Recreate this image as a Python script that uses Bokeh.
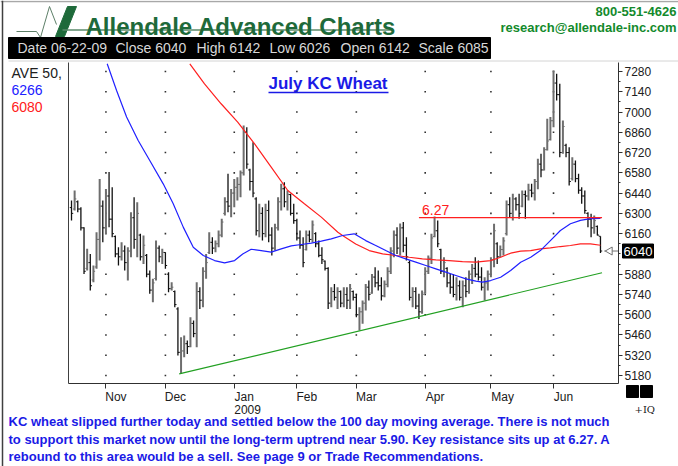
from bokeh.plotting import figure
from bokeh.models import Range1d, LinearAxis, FixedTicker, Label, ColumnDataSource, GridBox
from bokeh.embed import file_html
from bokeh.resources import INLINE
from bokeh.core.properties import value

FONT = "Liberation Sans"
W, H = 678, 466

# ---------------- data ----------------
months = ["Nov", "Dec", "Jan", "Feb", "Mar", "Apr", "May", "Jun"]
month_start_idx = [11, 30, 52, 72, 91, 113, 134, 154]
year_label = "2009"

high = [6389, 6458, 6389, 6343, 6205, 6055, 6020, 5940, 6170, 6538,
        6389, 6469, 6585, 6481, 6147, 6066, 6101, 6078, 6066, 6308,
        6412, 6377, 6159, 6147, 6020, 5905, 5848, 6113, 6078, 6055,
        6032, 5894, 5825, 5767, 5652, 5445, 5456, 5422, 5583, 5560,
        5825, 5790, 5928, 6020, 6170, 6135, 6112, 6182, 6262, 6412,
        6573, 6469, 6538, 6550, 6596, 6907, 6895, 6608, 6792, 6412,
        6366, 6343, 6366, 6389, 6205, 6228, 6412, 6504, 6515, 6458,
        6435, 6366, 6262, 6182, 6135, 6182, 6182, 6251, 6170, 6112,
        6066, 5974, 5928, 5790, 5813, 5790, 5767, 5790, 5790, 5813,
        5767, 5744, 5652, 5698, 5813, 5836, 5882, 5928, 5905, 5859,
        5836, 5928, 6066, 6182, 6205, 6230, 6240, 6135, 5974, 5790,
        5790, 5744, 5767, 5928, 6009, 6159, 6278, 6251, 6055, 5997,
        5928, 5882, 5882, 5859, 5836, 5836, 5859, 5905, 5951, 5997,
        5974, 5928, 5859, 5905, 5997, 6228, 6101, 6078, 6135, 6389,
        6412, 6435, 6412, 6435, 6458, 6458, 6504, 6504, 6538, 6677,
        6711, 6757, 6953, 6965, 7287, 7264, 7195, 6941, 6780, 6757,
        6688, 6665, 6573, 6481, 6458, 6308, 6297, 6285, 6216, 6142]

low = [6251, 6320, 6308, 6182, 5882, 5905, 5767, 5825, 5917, 5974,
       6101, 6158, 6205, 6135, 5997, 5940, 5974, 5905, 5836, 5997,
       6055, 5997, 5974, 5951, 5859, 5744, 5686, 5836, 5963, 5951,
       5917, 5756, 5767, 5652, 5318, 5191, 5306, 5329, 5376, 5445,
       5376, 5640, 5652, 5848, 6020, 6020, 6032, 6066, 6135, 6285,
       6308, 6274, 6343, 6389, 6412, 6561, 6608, 6458, 6412, 6147,
       6135, 6112, 6135, 6101, 6009, 6043, 6182, 6320, 6343, 6320,
       6285, 6228, 6112, 6055, 5928, 6043, 6101, 6101, 6066, 5997,
       5951, 5905, 5640, 5652, 5698, 5640, 5652, 5652, 5640, 5640,
       5698, 5583, 5491, 5537, 5629, 5698, 5744, 5790, 5767, 5698,
       5721, 5790, 5882, 5997, 6020, 6009, 6032, 5974, 5698, 5652,
       5640, 5571, 5606, 5744, 5882, 5951, 6135, 6066, 5882, 5859,
       5790, 5744, 5721, 5698, 5698, 5652, 5721, 5744, 5813, 5859,
       5836, 5767, 5698, 5767, 5859, 5928, 5951, 5997, 6009, 6147,
       6274, 6251, 6320, 6262, 6343, 6262, 6389, 6412, 6389, 6466,
       6550, 6596, 6734, 6803, 6895, 7080, 6688, 6711, 6688, 6492,
       6527, 6515, 6435, 6366, 6297, 6205, 6135, 6159, 6147, 6026]

open_ = [6340, 6330, 6380, 6330, 6200, 5920, 5960, 5840, 5930, 6120,
         6350, 6200, 6420, 6260, 6140, 6020, 6000, 6040, 5960, 6040,
         6270, 6120, 6150, 6000, 6010, 5880, 5770, 5850, 6060, 6000,
         6030, 5880, 5780, 5760, 5640, 5340, 5350, 5400, 5380, 5540,
         5470, 5760, 5700, 5900, 6030, 6100, 6060, 6090, 6150, 6300,
         6380, 6350, 6440, 6480, 6500, 6580, 6860, 6600, 6520, 6400,
         6180, 6300, 6160, 6320, 6150, 6060, 6200, 6380, 6470, 6380,
         6430, 6300, 6250, 6130, 6080, 6050, 6150, 6120, 6160, 6090,
         6010, 5970, 5920, 5680, 5760, 5720, 5760, 5680, 5740, 5700,
         5760, 5720, 5600, 5620, 5680, 5790, 5750, 5860, 5820, 5800,
         5730, 5810, 5900, 6040, 6150, 6060, 6200, 6080, 5960, 5720,
         5760, 5660, 5620, 5750, 5900, 5990, 6140, 6180, 6050, 5900,
         5920, 5820, 5790, 5740, 5800, 5720, 5800, 5760, 5880, 5920,
         5880, 5860, 5790, 5820, 5880, 5980, 6090, 6000, 6050, 6160,
         6360, 6300, 6400, 6360, 6350, 6430, 6420, 6460, 6440, 6520,
         6640, 6600, 6740, 6810, 6940, 7200, 7120, 6720, 6770, 6720,
         6540, 6640, 6540, 6460, 6420, 6300, 6260, 6200, 6210, 6142]

close = [6300, 6400, 6330, 6200, 5900, 5960, 5800, 5900, 6120, 6350,
         6200, 6420, 6260, 6160, 6020, 6000, 6040, 5960, 6040, 6270,
         6120, 6300, 6000, 6080, 5880, 5770, 5820, 6060, 6000, 6030,
         5940, 5780, 5790, 5670, 5340, 5350, 5400, 5380, 5540, 5470,
         5760, 5700, 5900, 5960, 6100, 6060, 6090, 6150, 6240, 6380,
         6350, 6440, 6480, 6500, 6580, 6860, 6640, 6520, 6440, 6180,
         6300, 6160, 6320, 6150, 6060, 6200, 6380, 6470, 6380, 6430,
         6300, 6250, 6130, 6080, 5960, 6150, 6120, 6220, 6090, 6010,
         5980, 5920, 5680, 5760, 5720, 5760, 5680, 5740, 5700, 5780,
         5720, 5600, 5620, 5680, 5790, 5740, 5860, 5820, 5800, 5730,
         5810, 5900, 6040, 6150, 6060, 6200, 6080, 6000, 5720, 5760,
         5660, 5620, 5740, 5900, 5990, 6130, 6180, 6090, 5900, 5960,
         5820, 5790, 5740, 5800, 5720, 5800, 5760, 5880, 5920, 5880,
         5860, 5790, 5820, 5880, 5980, 6180, 6000, 6050, 6110, 6360,
         6300, 6400, 6360, 6300, 6430, 6420, 6460, 6440, 6520, 6640,
         6600, 6740, 6800, 6940, 7200, 7120, 6720, 6900, 6720, 6520,
         6640, 6540, 6460, 6420, 6320, 6260, 6200, 6250, 6150, 6040]

ma50_idx = [11.4, 14.4, 17.6, 21.3, 25.0, 29.3, 32.5, 35.7, 38.9, 42.1,
            45.7, 48.9, 52.1, 54.7, 57.4, 60.6, 63.8, 67.0, 70.2, 73.4,
            76.6, 79.8, 83.0, 86.6, 90.3, 94.0, 97.2, 100.4, 103.6, 106.8,
            110.0, 113.2, 116.4, 119.6, 122.8, 126.0, 129.2, 131.3, 133.9, 137.1,
            140.3, 143.5, 146.7, 149.8, 153.0, 156.2, 159.4, 162.6, 165.8, 169.0]
ma50_val = [7333, 7149, 6965, 6803, 6665, 6504, 6366, 6205, 6066, 6009,
            5974, 5958, 5974, 6020, 6052, 6043, 6032, 6055, 6076, 6085,
            6094, 6108, 6124, 6147, 6159, 6112, 6078, 6043, 6009, 5986,
            5963, 5940, 5917, 5894, 5871, 5848, 5832, 5825, 5836, 5859,
            5905, 5963, 5997, 6043, 6112, 6182, 6228, 6252, 6264, 6266]

ma100_idx = [37.8, 42.5, 47.8, 53.1, 58.5, 63.8, 69.1, 74.4, 79.8, 85.1,
             86.6, 90.8, 95.1, 99.4, 103.6, 107.9, 112.1, 116.4, 120.7, 124.9,
             129.2, 133.9, 137.1, 140.3, 143.5, 146.7, 149.8, 153.0, 156.2, 159.4,
             162.6, 165.8, 169.0]
ma100_val = [7333, 7195, 7057, 6930, 6780, 6619, 6458, 6366, 6274, 6170,
             6147, 6089, 6043, 6020, 6009, 5997, 5986, 5979, 5974, 5967,
             5963, 5974, 5997, 6025, 6039, 6043, 6055, 6062, 6071, 6078,
             6089, 6089, 6080]

trend_idx = [34.4, 169.5]
trend_val = [5191, 5890]

resist_idx = [111, 169.5]
resist_val = [6270, 6270]
resist_label = "6.27"

price_ticks = [5180, 5320, 5460, 5600, 5740, 5880, 6160, 6300,
               6440, 6580, 6720, 6860, 7000, 7140, 7280]
price_minor = [5250, 5390, 5530, 5670, 5810, 5950, 6020, 6090, 6230, 6370,
               6510, 6650, 6790, 6930, 7070, 7210]

last_close = 6040
ave_lines = ["AVE 50,", "6266", "6080"]
chart_title = "July KC Wheat"
logo_text = "Allendale Advanced Charts"
phone = "800-551-4626"
email = "research@allendale-inc.com"
header_items = ["Date 06-22-09", "Close 6040", "High 6142", "Low 6026", "Open 6142", "Scale 6085"]
footer_lines = [
    "KC wheat slipped further today and settled below the 100 day moving average.  There is not much",
    "to support this market now until the long-term uptrend near 5.90.  Key resistance sits up at 6.27.  A",
    "rebound to this area would be a sell.  See page 9 or Trade Recommendations.",
]

# ---------------- geometry of the chart frame (pixels) ----------------
FL, FR, FT, FB = 68, 618, 62, 383
X0, X1 = -0.96, 174.76
Y0, Y1 = 5125, 7342

# ---------------- main chart (bottom layer) ----------------
p = figure(width=W, height=H, x_range=Range1d(X0, X1), y_range=Range1d(Y0, Y1),
           output_backend="svg", toolbar_location=None,
           min_border_left=FL, min_border_right=W - FR, min_border_top=FT, min_border_bottom=H - FB,
           x_axis_location=None, y_axis_location=None, outline_line_color=None)
p.grid.visible = False
try:
    p.frame_align = False
except Exception:
    pass

NB = "\u00a0"
pads = {"Nov": 6, "Dec": 6, "Jan": 6, "Feb": 6, "Mar": 6, "Apr": 6, "May": 7, "Jun": 6}
overrides = {}
for m, i in zip(months, month_start_idx):
    lab = NB * pads[m] + m
    if m == "Jan":
        lab = lab + "\n" + NB * 8 + year_label
    overrides[i] = lab

xax = LinearAxis(ticker=FixedTicker(ticks=month_start_idx, minor_ticks=[]),
                 major_label_overrides=overrides,
                 major_tick_out=5, major_tick_in=0, minor_tick_out=0, minor_tick_in=0,
                 axis_line_color="#303030", major_tick_line_color="#303030",
                 major_label_standoff=1, major_label_text_font=FONT,
                 major_label_text_font_size="12px", major_label_text_color="#202020",
                 major_label_text_line_height=0.95)
p.add_layout(xax, "below")

lax = LinearAxis(ticker=FixedTicker(ticks=[], minor_ticks=[]),
                 major_tick_out=0, major_tick_in=0, minor_tick_out=0, minor_tick_in=0,
                 axis_line_color="#404040", major_label_standoff=0)
p.add_layout(lax, "left")

yax = LinearAxis(ticker=FixedTicker(ticks=price_ticks, minor_ticks=price_minor),
                 major_tick_out=4, major_tick_in=0, minor_tick_out=2, minor_tick_in=0,
                 axis_line_color="#303030", major_tick_line_color="#303030",
                 minor_tick_line_color="#303030", major_label_standoff=2,
                 major_label_text_font=FONT, major_label_text_font_size="12px",
                 major_label_text_color="#202020")
p.add_layout(yax, "right")

# dotted grid at tick intersections
gx = [m for m in month_start_idx for _ in price_ticks]
gy = [t for _ in month_start_idx for t in price_ticks]
p.scatter(x=gx, y=gy, marker="square", size=1.6, fill_color="#303030", line_color=None)

idx = list(range(len(high)))
up = [c >= o for o, c in zip(open_, close)]
src = ColumnDataSource(dict(
    x=idx, hi=high, lo=low, op=open_, cl=close,
    xl=[i - 0.55 for i in idx], xr=[i + 0.55 for i in idx],
    color=["#6e6e6e" if u else "#101010" for u in up],
    width=[2 if u else 1.3 for u in up],
))
p.segment(x0="x", y0="lo", x1="x", y1="hi", source=src, line_color="color", line_width="width")
p.segment(x0="xl", y0="op", x1="x", y1="op", source=src, line_color="color", line_width=1)
p.segment(x0="x", y0="cl", x1="xr", y1="cl", source=src, line_color="color", line_width=1)

p.line(ma100_idx, ma100_val, line_color="#ff2020", line_width=1.2)
p.line(ma50_idx, ma50_val, line_color="#2020ff", line_width=1.2)
p.line(trend_idx, trend_val, line_color="#22a022", line_width=1.2)
p.line(resist_idx, resist_val, line_color="#ff2020", line_width=1.3)
p.add_layout(Label(x=resist_idx[0] + 1, y=resist_val[0], y_offset=3, text=resist_label,
                   text_font=FONT, text_font_size="14px", text_color="#ff2020",
                   text_baseline="bottom"))

# last price pointer
p.segment(x0=[170.2], y0=[last_close], x1=[X1], y1=[last_close], line_color="#707070", line_width=1)
p.scatter(x=[172.0], y=[last_close], marker="triangle", angle=1.5708, size=8,
          fill_color="white", line_color="#707070")

# ---------------- decoration layer (top, transparent) ----------------
sx = (X1 - X0) / (FR - FL)
sy = (Y1 - Y0) / (FB - FT)
d = figure(width=W, height=H,
           x_range=Range1d(X0 - FL * sx, X1 + (W - FR) * sx),
           y_range=Range1d(Y0 - (H - FB) * sy, Y1 + FT * sy),
           output_backend="svg", toolbar_location=None, min_border=0,
           x_axis_location=None, y_axis_location=None, outline_line_color=None,
           background_fill_color=None, border_fill_color=None)
d.grid.visible = False
try:
    d.frame_align = False
except Exception:
    pass
d.extra_x_ranges = {"px": Range1d(0, W)}
d.extra_y_ranges = {"px": Range1d(H, 0)}
PX = dict(x_range_name="px", y_range_name="px")

# page frame
d.segment(x0=[0], y0=[1], x1=[W], y1=[1], line_color="#a8a8a8", line_width=1.5, **PX)
d.segment(x0=[2], y0=[0], x1=[2], y1=[H], line_color="#404040", line_width=1.5, **PX)
d.segment(x0=[8], y0=[60.5], x1=[W], y1=[60.5], line_color="#d4d4d4", line_width=1, **PX)

# logo
d.line(x=[16, 36, 40, 49, 56], y=[31, 31, 37, 6, 24], line_color="#5d7f68", line_width=1, **PX)
d.patch(x=[55, 67, 76, 64], y=[36, 6, 6, 36], fill_color="#1e6a3a", line_color="#1e6a3a", **PX)
d.segment(x0=[62], y0=[29.5], x1=[392], y1=[29.5], line_color="#5a8a6a", line_width=1.5, **PX)
d.text(x=[85], y=[26], text=[logo_text], text_font=value(FONT), text_font_style="bold",
       text_font_size="24px", text_color="#1e6a3a", text_baseline="alphabetic", **PX)
d.text(x=[676], y=[11], text=[phone], text_font=value(FONT), text_font_style="bold",
       text_font_size="13px", text_color="#138a2c", text_align="right", text_baseline="middle", **PX)
d.text(x=[676], y=[27], text=[email], text_font=value(FONT), text_font_style="bold",
       text_font_size="13px", text_color="#138a2c", text_align="right", text_baseline="middle", **PX)

# black info bar
d.quad(left=[8], right=[490], top=[37], bottom=[58], fill_color="black", line_color="black", **PX)
d.text(x=[17, 115, 196, 269, 340, 418], y=[47.5] * 6, text=header_items, text_font=value(FONT),
       text_font_size="14px", text_color="#d8d8d8", text_baseline="middle", **PX)

# left legend block
d.text(x=[11, 11, 11], y=[72, 89, 106], text=ave_lines, text_font=value(FONT),
       text_font_size="14px", text_color=["#202020", "#2020ff", "#ff2020"],
       text_baseline="middle", **PX)

# chart title with underline
d.text(x=[268], y=[83], text=[chart_title], text_font=value(FONT), text_font_style="bold",
       text_font_size="17px", text_color="#1a1ae6", text_baseline="middle", **PX)
d.segment(x0=[268], y0=[92], x1=[388], y1=[92], line_color="#1a1ae6", line_width=1.5, **PX)

# last price box on the price axis
d.rect(x=[637.5], y=[last_close], width=31, height=14, width_units="screen", height_units="screen",
       fill_color="black", line_color="black", x_range_name="px")
d.text(x=[623], y=[last_close], text=[str(last_close)], text_font=value(FONT),
       text_font_size="13px", text_color="white", text_baseline="middle", x_range_name="px")

# corner boxes and +IQ
d.quad(left=[626, 640], right=[638, 652], top=[385, 385], bottom=[397, 397],
       fill_color="black", line_color="black", **PX)
d.text(x=[634], y=[409], text=["+IQ"], text_font=value("DejaVu Serif"),
       text_font_size="10px", text_color="#202020", text_baseline="middle", **PX)

# footer comment
d.text(x=[8, 8, 8], y=[421, 439, 456], text=footer_lines, text_font=value(FONT),
       text_font_style="bold", text_font_size="13px", text_color="#1a1ae6",
       text_baseline="middle", **PX)

layout = GridBox(children=[(p, 0, 0), (d, 0, 0)])
open("out.html", "w").write(file_html(layout, INLINE))
